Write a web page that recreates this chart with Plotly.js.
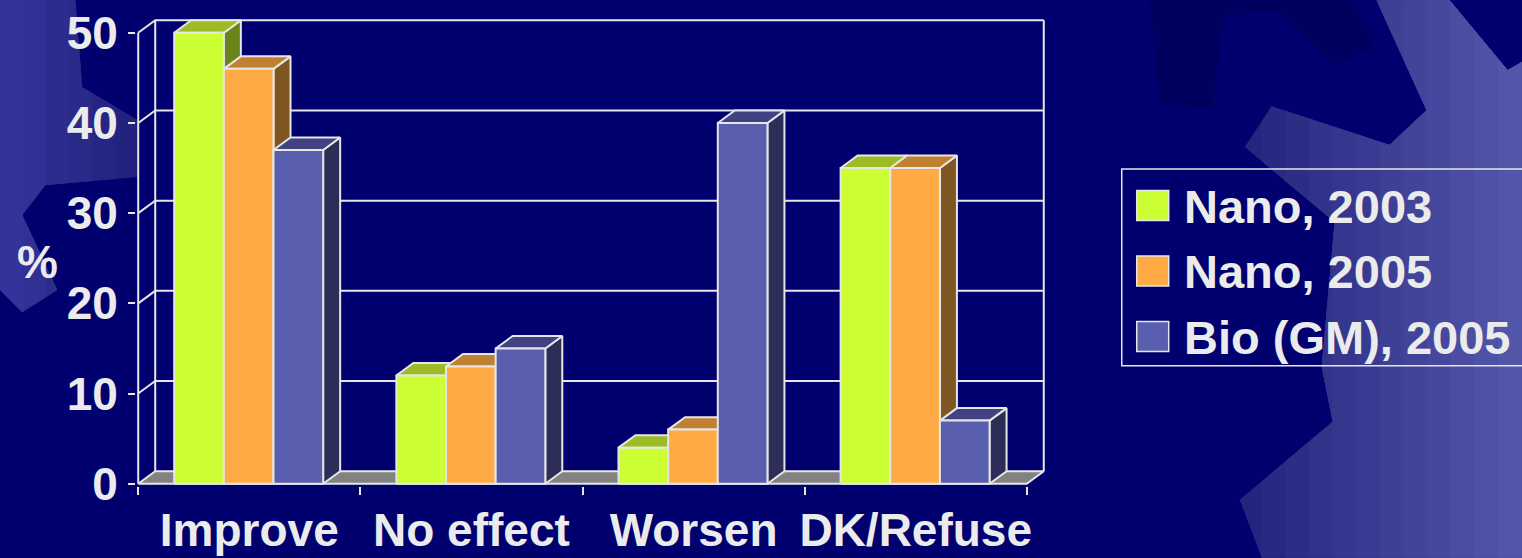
<!DOCTYPE html>
<html>
<head>
<meta charset="utf-8">
<script src="https://cdn.plot.ly/plotly-3.0.1.min.js"></script>
<style>html,body{margin:0;padding:0;background:#00006e;}#chart{width:1522px;height:558px;}</style>
</head>
<body>
<div id="chart"></div>
<script>
// ---- data ----
const categories = ['Improve', 'No effect', 'Worsen', 'DK/Refuse'];
const seriesNames = ['Nano, 2003', 'Nano, 2005', 'Bio (GM), 2005'];
const nano2003 = [50, 12, 4, 35];
const nano2005 = [46, 13, 6, 35];
const bioGM2005 = [37, 15, 40, 7];
const yTickVals = [0, 10, 20, 30, 40, 50];

// ---- style / geometry ----
const W = 1522, H = 558;
const PXX = 222.25, PXY = 9.03;          // pixels per data unit
const DX = 17 / PXX, DY = 12.5 / PXY;   // 3-D depth offset in data units
const BAR_W = 0.2235, GROUP_START = -0.338;
const XL = -0.51, XR = 3.5 + DX + 0.01;
const YB = -0.25, YT = 50 + DY + 0.25;
const mL = 138 + (XL + 0.5) * PXX;
const plotW = (XR - XL) * PXX;
const mR = W - mL - plotW;
const mB = H - (484 + (0 - YB) * PXY);
const plotH = (YT - YB) * PXY;
const mT = H - mB - plotH;
const LINE = '#e6e6e6';
const FONT = {family: 'Liberation Sans, Arial, sans-serif', size: 46, color: '#ebebeb', weight: 'bold'};
const LFONT = {family: 'Liberation Sans, Arial, sans-serif', size: 47, color: '#ebebeb', weight: 'bold'};
const colors = [
  {front: '#ccff33', top: '#9dbb25', side: '#6a841a'},
  {front: '#ffaa44', top: '#c08032', side: '#7f5522'},
  {front: '#5a5eae', top: '#404282', side: '#2c2e58'}
];
const allSeries = [nano2003, nano2005, bioGM2005];

function px(x, y) { return [(x - mL) / plotW, (H - mB - y) / plotH]; }

const traces = [];

// walls & gridlines
const gx = [], gy = [];
function seg(pts) { pts.forEach(p => { gx.push(p[0]); gy.push(p[1]); }); gx.push(null); gy.push(null); }
yTickVals.forEach(v => {
  if (v === 0) return;
  seg([[-0.5, v], [-0.5 + DX, v + DY], [3.5 + DX, v + DY]]);
});
seg([[-0.5, 0], [-0.5, 50]]);
seg([[-0.5 + DX, DY], [-0.5 + DX, 50 + DY]]);
seg([[3.5 + DX, DY], [3.5 + DX, 50 + DY]]);
traces.push({type: 'scatter', mode: 'lines', x: gx, y: gy, line: {color: LINE, width: 2}, hoverinfo: 'skip', showlegend: false});

// floor
traces.push({type: 'scatter', mode: 'lines', fill: 'toself', fillcolor: '#828282',
  x: [-0.5, 3.5, 3.5 + DX, -0.5 + DX, -0.5], y: [0, 0, DY, DY, 0],
  line: {color: LINE, width: 2}, hoverinfo: 'skip', showlegend: false});

// bars (front, top, side faces)
allSeries.forEach((vals, s) => {
  const f = {x: [], y: []}, t = {x: [], y: []}, sd = {x: [], y: []};
  vals.forEach((v, i) => {
    const x0 = i + GROUP_START + s * BAR_W, x1 = x0 + BAR_W;
    f.x.push(x0, x1, x1, x0, x0, null); f.y.push(0, 0, v, v, 0, null);
    t.x.push(x0, x1, x1 + DX, x0 + DX, x0, null); t.y.push(v, v, v + DY, v + DY, v, null);
    sd.x.push(x1, x1 + DX, x1 + DX, x1, x1, null); sd.y.push(0, DY, v + DY, v, 0, null);
  });
  [[sd, 'side'], [t, 'top'], [f, 'front']].forEach(([d, k]) => {
    traces.push({type: 'scatter', mode: 'lines', fill: 'toself', fillcolor: colors[s][k],
      x: d.x, y: d.y, line: {color: LINE, width: 2}, name: seriesNames[s],
      hoverinfo: 'skip', showlegend: false});
  });
});

// ---- background decoration (gears, page-pixel outlines) ----
function clipRight(pts, xc) {           // keep part of polygon with x >= xc
  const out = [];
  for (let i = 0; i < pts.length; i++) {
    const a = pts[i], b = pts[(i + 1) % pts.length];
    const ain = a[0] >= xc, bin = b[0] >= xc;
    if (ain) out.push(a);
    if (ain !== bin) {
      const t = (xc - a[0]) / (b[0] - a[0]);
      out.push([xc, a[1] + t * (b[1] - a[1])]);
    }
  }
  return out;
}
function mix(c1, c2, t) {
  const h = c => [1, 3, 5].map(i => parseInt(c.substr(i, 2), 16));
  const a = h(c1), b = h(c2);
  return 'rgb(' + a.map((v, i) => Math.round(v + (b[i] - v) * t)).join(',') + ')';
}
const leftGear = [[0,0],[75,0],[82,87],[138,120],[138,177],[45,185],[22,215],[57,290],[22,312],[0,290]];
const darkTooth = [[1150,0],[1160,105],[1213,107],[1224,15],[1276,10],[1337,65],[1375,45],[1352,0]];
const rightGear = [[1377,0],[1450,0],[1508,70],[1522,62],[1522,558],[1262,558],[1240,500],[1333,422],[1322,367],[1335,222],[1245,147],[1272,106],[1390,145],[1427,110]];
const bg = [];
for (let k = 0; k < 6; k++) bg.push({c: mix('#34349a', '#20207e', k / 5), pts: clipRight(leftGear, -1 + k * 25).map(p => p)});
// left gear: lighter toward the left edge -> draw full first, then nothing (simple gradient by bands from right)
bg.length = 0;
const lgBands = 6;
for (let k = 0; k < lgBands; k++) {
  // bands from left edge growing narrower: use clip of mirrored polygon
  const xc = 138 - (k + 1) * (138 / lgBands);
  const mirrored = leftGear.map(p => [-p[0], p[1]]);
  bg.push({c: mix('#22227f', '#33339a', k / (lgBands - 1)), pts: clipRight(mirrored, -138 + k * (138 / lgBands) - 0.001).map(p => [-p[0], p[1]])});
}
bg.push({c: '#00005e', pts: darkTooth});
const rgBands = 12;
for (let k = 0; k < rgBands; k++) {
  const xc = 1238 + k * (284 / rgBands);
  bg.push({c: mix('#24257f', '#5256a8', k / (rgBands - 1)), pts: clipRight(rightGear, xc)});
}
const shapes = bg.filter(g => g.pts.length > 2).map(g => ({type: 'path', xref: 'paper', yref: 'paper', layer: 'below',
  fillcolor: g.c, line: {width: 0},
  path: 'M' + g.pts.map(p => px(p[0], p[1]).join(',')).join('L') + 'Z'}));

// legend box + swatches
const lb0 = px(1122, 169), lb1 = px(1526, 366);
shapes.push({type: 'rect', xref: 'paper', yref: 'paper', x0: lb0[0], y0: lb0[1], x1: lb1[0], y1: lb1[1],
  line: {color: LINE, width: 1.5}, fillcolor: 'rgba(0,0,0,0)'});
const rowY = [205.5, 271, 336.5];
const annotations = [];
seriesNames.forEach((n, s) => {
  const a = px(1137, rowY[s] - 15), b = px(1169, rowY[s] + 15);
  shapes.push({type: 'rect', xref: 'paper', yref: 'paper', x0: a[0], y0: a[1], x1: b[0], y1: b[1],
    fillcolor: colors[s].front, line: {color: LINE, width: 1.5}});
  const p = px(1182, rowY[s] + 1);
  annotations.push({xref: 'paper', yref: 'paper', x: p[0], y: p[1], xanchor: 'left', yanchor: 'middle',
    text: n, showarrow: false, font: LFONT});
});
const pp = px(37, 262);
annotations.push({xref: 'paper', yref: 'paper', x: pp[0], y: pp[1], xanchor: 'center', yanchor: 'middle',
  text: '%', showarrow: false, font: FONT});

const layout = {
  width: W, height: H,
  margin: {l: mL, r: mR, t: mT, b: mB, pad: 0},
  paper_bgcolor: '#00006e', plot_bgcolor: 'rgba(0,0,0,0)',
  showlegend: false,
  xaxis: {range: [XL, XR], showgrid: false, zeroline: false, showline: false,
    tickmode: 'array', tickvals: [0, 1, 2, 3], ticktext: categories, ticks: '',
    tickfont: FONT, ticklabelstandoff: 13,
    minor: {tickmode: 'array', tickvals: [-0.5, 0.5, 1.5, 2.5, 3.5], ticks: 'outside', ticklen: 8, tickwidth: 2, tickcolor: LINE, showgrid: false},
    fixedrange: true},
  yaxis: {range: [YB, YT], showgrid: false, zeroline: false, showline: false,
    tickmode: 'array', tickvals: yTickVals, ticks: 'outside', ticklen: 7, tickwidth: 2, tickcolor: LINE,
    tickfont: FONT, ticklabelstandoff: 1, fixedrange: true},
  shapes: shapes,
  annotations: annotations
};

Plotly.newPlot('chart', traces, layout, {staticPlot: true, displayModeBar: false});
</script>
</body>
</html>
